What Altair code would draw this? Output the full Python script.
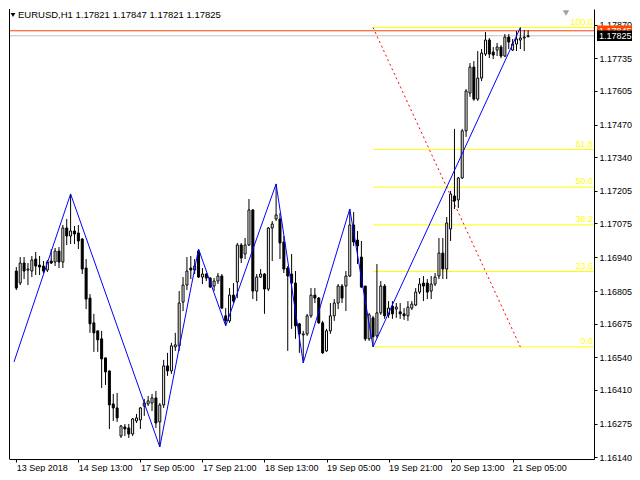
import altair as alt
import pandas as pd

# ---------------- data ----------------
bar_index = list(range(133))
opens = [1.16885, 1.16837, 1.16917, 1.16889, 1.16885, 1.16933, 1.16909, 1.16905, 1.16889, 1.16925,
         1.16921, 1.16965, 1.16921, 1.17057, 1.17025, 1.17045, 1.17037, 1.17013, 1.16897, 1.16777,
         1.16678, 1.16646, 1.16614, 1.16538, 1.16486, 1.16354, 1.16338, 1.16226, 1.16262, 1.16258,
         1.16234, 1.16286, 1.16290, 1.16346, 1.16354, 1.16358, 1.16378, 1.16282, 1.16350, 1.16506,
         1.16486, 1.16582, 1.16586, 1.16761, 1.16829, 1.16897, 1.16889, 1.16965, 1.16861, 1.16873,
         1.16857, 1.16825, 1.16845, 1.16865, 1.16706, 1.16686, 1.16789, 1.16841, 1.16989, 1.16953,
         1.16989, 1.17129, 1.16805, 1.16861, 1.16873, 1.16813, 1.17057, 1.17093, 1.17093, 1.17001,
         1.16897, 1.16873, 1.16837, 1.16674, 1.16630, 1.16634, 1.16706, 1.16789, 1.16777, 1.16678,
         1.16566, 1.16646, 1.16706, 1.16757, 1.16825, 1.16825, 1.16865, 1.17069, 1.17009, 1.16941,
         1.16825, 1.16614, 1.16698, 1.16626, 1.16718, 1.16825, 1.16710, 1.16745, 1.16733, 1.16722,
         1.16714, 1.16706, 1.16737, 1.16749, 1.16801, 1.16837, 1.16837, 1.16805, 1.16833, 1.16865,
         1.16957, 1.16893, 1.17053, 1.17185, 1.17169, 1.17257, 1.17445, 1.17596, 1.17700, 1.17572,
         1.17656, 1.17752, 1.17808, 1.17760, 1.17768, 1.17780, 1.17744, 1.17820, 1.17768, 1.17792,
         1.17808, 1.17816, 1.17821]
highs = [1.16901, 1.16941, 1.16941, 1.16917, 1.16945, 1.16961, 1.16945, 1.16925, 1.16929, 1.16973,
         1.16977, 1.16981, 1.17069, 1.17093, 1.17193, 1.17065, 1.17069, 1.17017, 1.16933, 1.16793,
         1.16714, 1.16646, 1.16646, 1.16538, 1.16486, 1.16394, 1.16398, 1.16270, 1.16274, 1.16274,
         1.16298, 1.16314, 1.16342, 1.16374, 1.16386, 1.16394, 1.16406, 1.16358, 1.16530, 1.16558,
         1.16598, 1.16638, 1.16805, 1.16861, 1.16941, 1.16945, 1.16933, 1.16973, 1.16897, 1.16877,
         1.16861, 1.16857, 1.16877, 1.16873, 1.16737, 1.16817, 1.16837, 1.16997, 1.16997, 1.17017,
         1.17173, 1.17133, 1.16873, 1.16893, 1.16877, 1.17061, 1.17085, 1.17233, 1.17117, 1.17025,
         1.16905, 1.16953, 1.16885, 1.16678, 1.16646, 1.16714, 1.16817, 1.16817, 1.16781, 1.16686,
         1.16654, 1.16757, 1.16773, 1.16833, 1.16833, 1.16885, 1.17133, 1.17121, 1.17045, 1.17005,
         1.16825, 1.16718, 1.16706, 1.16913, 1.16845, 1.16833, 1.16765, 1.16765, 1.16757, 1.16757,
         1.16737, 1.16765, 1.16765, 1.16817, 1.16857, 1.16865, 1.16853, 1.16865, 1.16877, 1.17017,
         1.17017, 1.17101, 1.17205, 1.17453, 1.17261, 1.17453, 1.17612, 1.17716, 1.17724, 1.17764,
         1.17772, 1.17840, 1.17816, 1.17780, 1.17796, 1.17788, 1.17832, 1.17832, 1.17812, 1.17844,
         1.17858, 1.17848, 1.17847]
lows = [1.16809, 1.16829, 1.16853, 1.16829, 1.16861, 1.16869, 1.16869, 1.16877, 1.16881, 1.16913,
        1.16905, 1.16897, 1.16897, 1.16989, 1.16993, 1.16993, 1.16973, 1.16873, 1.16733, 1.16638,
        1.16562, 1.16562, 1.16418, 1.16430, 1.16254, 1.16286, 1.16282, 1.16218, 1.16226, 1.16218,
        1.16226, 1.16278, 1.16254, 1.16306, 1.16346, 1.16326, 1.16258, 1.16182, 1.16338, 1.16466,
        1.16474, 1.16566, 1.16566, 1.16725, 1.16809, 1.16853, 1.16873, 1.16857, 1.16833, 1.16845,
        1.16817, 1.16805, 1.16833, 1.16733, 1.16666, 1.16678, 1.16757, 1.16777, 1.16917, 1.16933,
        1.16985, 1.16773, 1.16765, 1.16857, 1.16714, 1.16805, 1.16925, 1.17085, 1.16933, 1.16877,
        1.16566, 1.16654, 1.16614, 1.16558, 1.16518, 1.16626, 1.16698, 1.16757, 1.16674, 1.16554,
        1.16562, 1.16634, 1.16686, 1.16733, 1.16757, 1.16725, 1.16861, 1.16985, 1.16913, 1.16817,
        1.16606, 1.16606, 1.16582, 1.16618, 1.16710, 1.16694, 1.16698, 1.16694, 1.16698, 1.16694,
        1.16690, 1.16686, 1.16729, 1.16745, 1.16793, 1.16765, 1.16773, 1.16773, 1.16825, 1.16853,
        1.16853, 1.16853, 1.17005, 1.17133, 1.17137, 1.17253, 1.17421, 1.17581, 1.17565, 1.17565,
        1.17644, 1.17744, 1.17736, 1.17732, 1.17744, 1.17736, 1.17740, 1.17772, 1.17764, 1.17764,
        1.17772, 1.17764, 1.17821]
closes = [1.16817, 1.16917, 1.16885, 1.16893, 1.16929, 1.16905, 1.16901, 1.16885, 1.16921, 1.16917,
          1.16965, 1.16921, 1.17057, 1.17025, 1.17045, 1.17033, 1.17005, 1.16893, 1.16773, 1.16674,
          1.16638, 1.16610, 1.16534, 1.16482, 1.16350, 1.16338, 1.16298, 1.16266, 1.16254, 1.16234,
          1.16294, 1.16298, 1.16338, 1.16358, 1.16366, 1.16378, 1.16278, 1.16350, 1.16506, 1.16486,
          1.16586, 1.16590, 1.16757, 1.16829, 1.16885, 1.16889, 1.16905, 1.16861, 1.16873, 1.16857,
          1.16821, 1.16845, 1.16865, 1.16737, 1.16686, 1.16789, 1.16765, 1.16989, 1.16937, 1.16989,
          1.17129, 1.16805, 1.16861, 1.16873, 1.16813, 1.17057, 1.17073, 1.17109, 1.16997, 1.16893,
          1.16865, 1.16837, 1.16666, 1.16634, 1.16634, 1.16706, 1.16789, 1.16777, 1.16678, 1.16558,
          1.16646, 1.16706, 1.16757, 1.16825, 1.16777, 1.16865, 1.17069, 1.17001, 1.16985, 1.16821,
          1.16614, 1.16710, 1.16622, 1.16718, 1.16825, 1.16706, 1.16737, 1.16714, 1.16741, 1.16714,
          1.16706, 1.16741, 1.16753, 1.16801, 1.16833, 1.16825, 1.16801, 1.16833, 1.16861, 1.16957,
          1.16893, 1.17077, 1.17193, 1.17165, 1.17257, 1.17445, 1.17604, 1.17700, 1.17572, 1.17656,
          1.17756, 1.17808, 1.17752, 1.17748, 1.17780, 1.17744, 1.17820, 1.17800, 1.17792, 1.17812,
          1.17816, 1.17820, 1.17825]

zz_index = [-0.6, 14, 37, 47, 54, 67, 74, 86, 92, 130]
zz_price = [1.16522, 1.17193, 1.16182, 1.16973, 1.16666, 1.17233, 1.16518, 1.17133, 1.16582, 1.17858]

fib_ratio = [0.0, 23.6, 38.2, 50.0, 61.8, 100.0]
fib_label = ["0.0", "23.6", "38.2", "50.0", "61.8", "100.0"]
fib_low = 1.16582
fib_high = 1.17858
fib_start = 92
fib_end = 130

price_ticks = [1.16140, 1.16275, 1.16410, 1.16540, 1.16675, 1.16805, 1.16940,
               1.17075, 1.17205, 1.17340, 1.17470, 1.17605, 1.17735, 1.17870]
time_tick_index = [0, 16, 32, 48, 64, 80, 96, 112, 128]
time_tick_label = ["13 Sep 2018", "14 Sep 13:00", "17 Sep 05:00", "17 Sep 21:00", "18 Sep 13:00",
                   "19 Sep 05:00", "19 Sep 21:00", "20 Sep 13:00", "21 Sep 05:00"]

ask_price = 1.17845
ask_text = "1.17845"
bid_price = 1.17825
bid_text = "1.17825"

header = "EURUSD,H1  1.17821 1.17847 1.17821 1.17825"

# ---------------- chart ----------------
W, H = 585, 450
FONT = "Liberation Sans"
ORANGE = "#FF4500"

candles = pd.DataFrame({"i": bar_index, "o": opens, "h": highs, "l": lows, "c": closes})
zz = pd.DataFrame({"i": zz_index, "p": zz_price})
fib = pd.DataFrame({"ratio": fib_ratio, "label": fib_label})
fib_diag = pd.DataFrame({"i": [fib_start, fib_end], "p": [fib_high, fib_low]})
ask_df = pd.DataFrame({"p": [ask_price], "t": [ask_text]})
bid_df = pd.DataFrame({"p": [bid_price], "t": [bid_text]})

label_expr = ("[" + ",".join("'%s'" % s for s in time_tick_label) + "][indexof(["
              + ",".join(str(v) for v in time_tick_index) + "], datum.value)]")

xs = alt.Scale(domain=[-0.6, 147.7], nice=False, zero=False)
ys = alt.Scale(domain=[1.16134, 1.17932], nice=False, zero=False)
xaxis = alt.Axis(values=time_tick_index, labelExpr=label_expr, title=None, grid=False,
                 labelAlign="left", labelPadding=1, tickSize=3, labelFlush=False,
                 labelOverlap=False, domainColor="black", tickColor="black",
                 labelColor="black", labelFont=FONT, labelFontSize=9)
yaxis = alt.Axis(values=price_ticks, format=".5f", orient="right", title=None, grid=False,
                 tickSize=3, labelPadding=2, labelOverlap=False, labelFlush=False,
                 domainColor="black", tickColor="black", labelColor="black",
                 labelFont=FONT, labelFontSize=9, labelBaseline="middle")


def X(f):
    return alt.X(f, type="quantitative", scale=xs, axis=xaxis)


def Y(f):
    return alt.Y(f, type="quantitative", scale=ys, axis=yaxis)


wicks = alt.Chart(candles).mark_rule(color="black", strokeWidth=1).encode(
    x=X("i"), y=Y("l"), y2="h")
bodies = alt.Chart(candles).mark_bar(size=2, stroke="black", strokeWidth=1).encode(
    x=X("i"), y=Y("o"), y2="c",
    fill=alt.condition("datum.c >= datum.o", alt.value("white"), alt.value("black")))

zigzag = alt.Chart(zz).mark_line(color="#0000FF", strokeWidth=1, clip=True).encode(
    x=X("i"), y=Y("p"), order="i:Q")

fib_base = alt.Chart(fib).transform_calculate(
    p=f"{fib_low} + ({fib_high} - {fib_low}) * datum.ratio / 100", s=f"{fib_start}")
fib_lines = fib_base.mark_rule(color="#FFFF00", strokeWidth=1).encode(
    x=X("s:Q"), x2=alt.value(W), y=Y("p:Q"))
fib_text = fib_base.mark_text(align="right", baseline="bottom", color="#FFFF00",
                              font=FONT, fontSize=9, dy=-1).encode(
    x=alt.value(W - 1), y=Y("p:Q"), text="label:N")

diag = alt.Chart(fib_diag).mark_line(color="#FF0000", strokeWidth=1, strokeDash=[2, 3]).encode(
    x=X("i"), y=Y("p"))

ask_line = alt.Chart(ask_df).mark_rule(strokeWidth=1, color=ORANGE).encode(
    x=alt.value(0), x2=alt.value(W), y=Y("p"))
bid_line = alt.Chart(bid_df).mark_rule(strokeWidth=1, color="#C0C0C0").encode(
    x=alt.value(0), x2=alt.value(W), y=Y("p"))

BOX = "M0,-0.3H2V0.3H0Z"
BOX_SIZE = 35 * 35
ask_box = alt.Chart(ask_df).mark_point(
    shape=BOX, filled=True, size=BOX_SIZE, opacity=1, strokeWidth=0, color=ORANGE).encode(
    x=alt.value(W + 3), y=Y("p"))
ask_lbl = alt.Chart(ask_df).mark_text(align="left", baseline="middle", color="white",
                                      font=FONT, fontSize=9).encode(
    x=alt.value(W + 5), y=Y("p"), text="t:N")
bid_box = alt.Chart(bid_df).mark_point(
    shape=BOX, filled=True, size=BOX_SIZE, opacity=1, strokeWidth=0, color="black").encode(
    x=alt.value(W + 3), y=Y("p"))
bid_lbl = alt.Chart(bid_df).mark_text(align="left", baseline="middle", color="white",
                                      font=FONT, fontSize=9).encode(
    x=alt.value(W + 5), y=Y("p"), text="t:N")

left_border = alt.Chart(candles).mark_rule(color="black", strokeWidth=1).encode(
    x=alt.value(0.5), y=alt.value(0), y2=alt.value(H))

header_text = alt.Chart(pd.DataFrame({"t": [header]})).mark_text(
    align="left", baseline="top", font=FONT, fontSize=9.5, color="black").encode(
    x=alt.value(9), y=alt.value(1), text="t:N")
header_tri = alt.Chart(pd.DataFrame({"t": [0]})).mark_point(
    shape="triangle-down", filled=True, size=22, color="black", opacity=1).encode(
    x=alt.value(4), y=alt.value(6))
shift_tri = alt.Chart(pd.DataFrame({"t": [0]})).mark_point(
    shape="triangle-down", filled=True, size=40, color="#A0A0A0", opacity=1).encode(
    x=alt.value(557), y=alt.value(4))

chart = alt.layer(
    bid_line, ask_line, fib_lines, fib_text, diag, wicks, bodies, zigzag,
    ask_box, ask_lbl, bid_box, bid_lbl, left_border, header_tri, header_text, shift_tri
).properties(
    width=W, height=H, background="white",
    padding={"left": 0, "top": 0, "right": 0, "bottom": 0},
).configure_view(strokeWidth=0)

chart.save("out.html", embed_options={"renderer": "svg", "actions": False})
